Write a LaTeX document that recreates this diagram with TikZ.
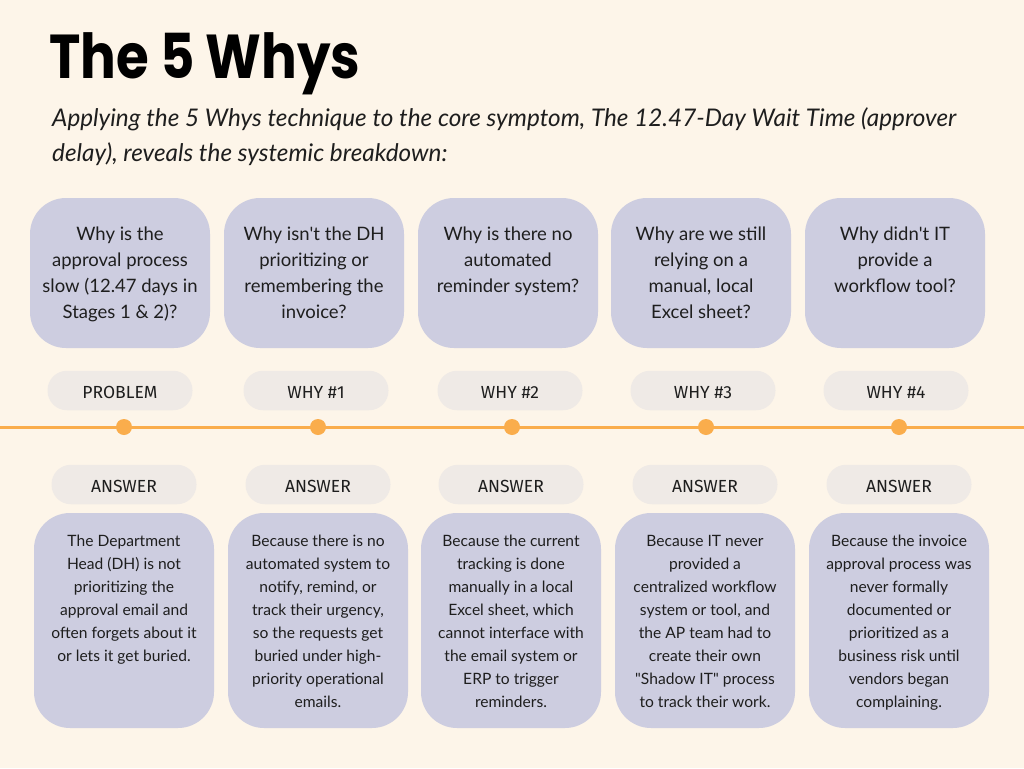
\documentclass[tikz,border=0pt]{standalone}
\usepackage{fontspec}
\setmainfont{Lato}
\newfontfamily\titlefont{Poppins}
\newfontfamily\labelfont{Fira Sans}
\definecolor{bg}{HTML}{FDF5E9}
\definecolor{boxc}{HTML}{CDCDE0}
\definecolor{pillc}{HTML}{EFEAE6}
\definecolor{orangec}{HTML}{FAAD4C}
\definecolor{txt}{HTML}{1E1E1E}
\tikzset{
  qbox/.style={fill=boxc, rounded corners=36pt, minimum width=180pt, minimum height=150pt, inner sep=0pt},
  abox/.style={fill=boxc, rounded corners=36pt, minimum width=180pt, minimum height=215pt, inner sep=0pt},
  pill/.style={fill=pillc, rounded corners=19.5pt, minimum width=145pt, minimum height=39.5pt, inner sep=0pt,
    text height=16pt, text depth=0pt,
    font=\labelfont\fontsize{17.5}{20}\selectfont, text=txt},
  qtext/.style={anchor=north, align=center, inner sep=0pt, text=txt, font=\fontsize{18.5}{26}\selectfont},
  atext/.style={anchor=north, align=center, inner sep=0pt, text=txt, font=\fontsize{15.6}{23}\selectfont},
  dot/.style={circle, fill=orangec, minimum size=16pt, inner sep=0pt},
}
\begin{document}
\begin{tikzpicture}[x=1pt,y=-1pt]
\fill[bg] (0,0) rectangle (1024,768);
\useasboundingbox (0,0) rectangle (1024,768);
\node[anchor=base west, inner sep=0pt, text=black, font=\titlefont\bfseries\fontsize{62}{70}\selectfont] (title) at (49,78) {\scalebox{0.855}[1]{The 5 Whys}};
\node[anchor=north west, align=left, inner sep=0pt, text=txt, font=\itshape\fontsize{24.3}{35}\selectfont] (sub) at (52,107.5)
 {Applying the 5 Whys technique to the core symptom, The 12.47-Day Wait Time (approver\\delay), reveals the systemic breakdown:};
% timeline
\coordinate (L) at (0,427);
\coordinate (R) at (1024,427);
\draw[orangec, line width=3pt] (L) -- (R);
% columns
\foreach \i/\qx/\ax/\px/\dx/\lab/\q/\a in {
 1/120/124/120/124/PROBLEM/{Why is the\\approval process\\slow (12.47 days in\\Stages 1 \& 2)?}/{The Department\\Head (DH) is not\\prioritizing the\\approval email and\\often forgets about it\\or lets it get buried.},
 2/314/318/316/318/WHY \#1/{Why isn\textquotesingle t the DH\\prioritizing or\\remembering the\\invoice?}/{Because there is no\\automated system to\\notify, remind, or\\track their urgency,\\so the requests get\\buried under high-\\priority operational\\emails.},
 3/508/511/510/512/WHY \#2/{Why is there no\\automated\\reminder system?}/{Because the current\\tracking is done\\manually in a local\\Excel sheet, which\\cannot interface with\\the email system or\\ERP to trigger\\reminders.},
 4/701/705/703/706/WHY \#3/{Why are we still\\relying on a\\manual, local\\Excel sheet?}/{Because IT never\\provided a\\centralized workflow\\system or tool, and\\the AP team had to\\create their own\\\textquotedbl Shadow IT\textquotedbl\ process\\to track their work.},
 5/895/899/896/899/WHY \#4/{Why didn\textquotesingle t IT\\provide a\\workflow tool?}/{Because the invoice\\approval process was\\never formally\\documented or\\prioritized as a\\business risk until\\vendors began\\complaining.}}
{
  \node[qbox] (q\i) at (\qx,273) {};
  \node[qtext] (qt\i) at ([yshift=-29pt]q\i.north) {\q};
  \node[pill] (p\i) at (\px,390.5) {\lab};
  \node[dot] (d\i) at (\dx,427) {};
  \node[pill] (an\i) at (\ax,484.5) {ANSWER};
  \node[abox] (a\i) at (\ax,620.5) {};
  \node[atext] (at\i) at ([yshift=-22pt]a\i.north) {\a};
}
\end{tikzpicture}
\end{document}
